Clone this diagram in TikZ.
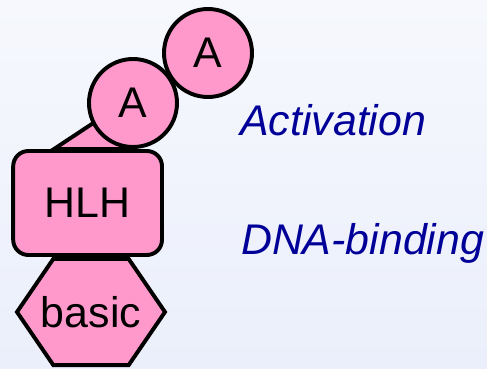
\documentclass[tikz,border=0pt]{standalone}
\usepackage{fontspec}
\setmainfont{Liberation Sans}
\usepackage{tikz}
\usetikzlibrary{backgrounds,calc}
\definecolor{domainpink}{RGB}{255, 153, 204}
\definecolor{labelblue}{RGB}{0, 0, 153}
\definecolor{bgtop}{RGB}{246, 248, 253}
\definecolor{bgbottom}{RGB}{235, 239, 251}

\begin{document}
\begin{tikzpicture}[
  every node/.style={font=\fontsize{30.5}{36}\selectfont},
  protpart/.style={draw=black, line width=2.8pt, fill=domainpink},
  activ/.style={protpart, circle, minimum size=2.2cm, inner sep=0pt},
  helix/.style={protpart, rectangle, rounded corners=0.38cm, minimum width=3.72cm, minimum height=2.6cm},
  region/.style={font=\fontsize{30.5}{36}\selectfont\itshape, text=labelblue, anchor=base west, inner sep=0pt}
]
\useasboundingbox (0,0) rectangle (12.175,9.2);

% Domains (A on top, HLH in the middle)
\node[helix] (hlh) at (2.19, 4.125) {HLH};
\node[activ] (a1) at (3.325, 6.625) {A};
\node[activ] (a2) at (5.2, 7.875) {A};

% Basic region: flattened hexagon under the HLH box
\coordinate (bas) at (2.275, 1.4);
\draw[protpart, line join=miter]
  ($(bas)+(-1.85,0)$) -- ($(bas)+(-0.94,1.33)$) -- ($(bas)+(0.94,1.33)$)
  -- ($(bas)+(1.85,0)$) -- ($(bas)+(0.94,-1.33)$) -- ($(bas)+(-0.94,-1.33)$) -- cycle;
\node (basic) at (bas) {basic};

% Linker between HLH and the first A, behind both
\begin{pgfonlayer}{background}
  \shade[top color=bgtop, bottom color=bgbottom] (0,0) rectangle (12.175,9.2);
  \filldraw[protpart, line join=miter]
    ($(hlh.north west)!0.28!(hlh.north east)$) -- (a1.207) -- (a1.center)
    -- (a1.south) -- (a1.south |- hlh.north) -- cycle;
\end{pgfonlayer}

% Labels
\node[region] (act) at (6.0, 5.825) {Activation};
\node[region] (dna) at (6.02, 2.85) {DNA-binding};
\end{tikzpicture}
\end{document}
